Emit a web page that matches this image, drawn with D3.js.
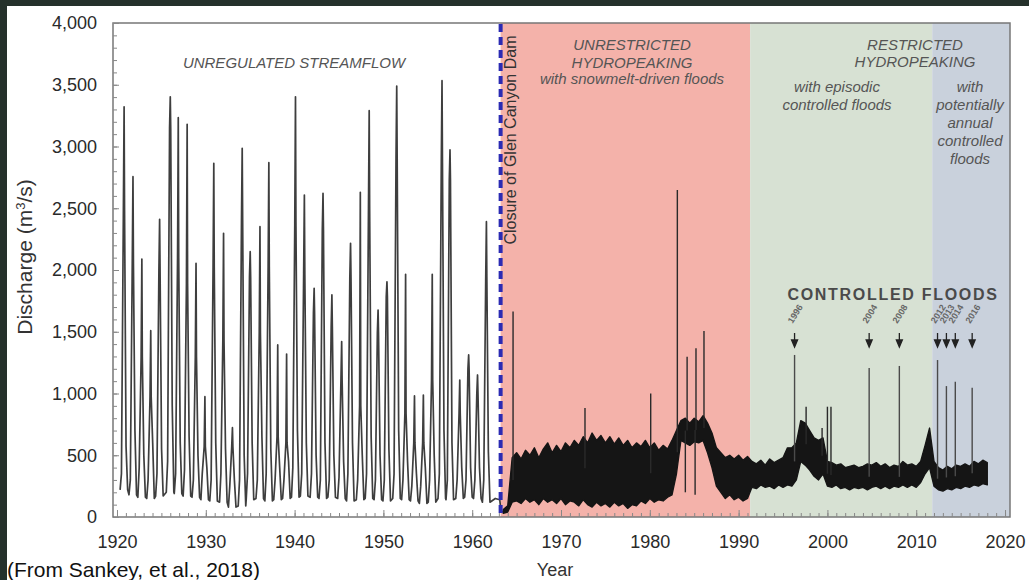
<!DOCTYPE html>
<html>
<head>
<meta charset="utf-8">
<title>Colorado River discharge</title>
<script src="https://cdn.jsdelivr.net/npm/d3@7"></script>
<style>
    body { margin: 0; background: #25312b; }
    svg { display: block; }
    text { font-family: Arial, "Liberation Sans", sans-serif; }
</style>
</head>
<body>
<svg id="svg" width="1029" height="580"></svg>
<script>
    // ---- data ----
    var yTicks = [0, 500, 1000, 1500, 2000, 2500, 3000, 3500, 4000];
    var xTicks = [1920, 1930, 1940, 1950, 1960, 1970, 1980, 1990, 2000, 2010, 2020];

    var damYear = 1963.2;
    var periodStart = [1963.2, 1991.3, 2011.8];
    var periodEnd = [1991.3, 2011.8, 2020.56];
    var periodFill = ["#f4b2aa", "#d7e1d3", "#c9d1dc"];

    // unregulated years: [time of peak, peak, inner (dark) level, summer, winter, low]
    var preDam = [
        [1920.8, 3322, 2486, 570, 350, 220], [1921.8, 2756, 2057, 700, 300, 180],
        [1922.8, 2089, 1298, 500, 400, 160], [1923.8, 1509, 974, 600, 300, 150],
        [1924.8, 2410, 2000, 550, 350, 170], [1926.0, 3403, 3147, 900, 450, 200],
        [1926.9, 3233, 2100, 600, 350, 190], [1927.9, 3180, 1892, 650, 380, 170],
        [1928.9, 2054, 1298, 500, 300, 160], [1929.9, 974, 570, 400, 350, 140],
        [1930.9, 2864, 2027, 600, 300, 130], [1932.0, 2297, 1433, 550, 350, 120],
        [1933.0, 723, 570, 300, 250, 80], [1934.1, 2985, 2405, 500, 300, 90],
        [1935.0, 2148, 1946, 600, 350, 140], [1936.1, 2351, 1490, 650, 300, 150],
        [1937.1, 2869, 2027, 550, 350, 130], [1938.1, 1393, 650, 400, 300, 140],
        [1939.1, 1320, 600, 450, 300, 150], [1940.1, 3403, 2380, 700, 400, 160],
        [1941.1, 2607, 1973, 600, 350, 170], [1942.2, 1852, 1650, 500, 350, 160],
        [1943.2, 2621, 2324, 600, 300, 150], [1944.2, 1798, 1541, 500, 300, 160],
        [1945.3, 1420, 1109, 450, 320, 150], [1946.3, 2216, 1946, 600, 350, 130],
        [1947.4, 2629, 900, 500, 300, 140], [1948.4, 3290, 2500, 650, 350, 150],
        [1949.4, 1676, 1490, 500, 300, 140], [1950.4, 1905, 1784, 550, 300, 130],
        [1951.5, 3490, 2900, 700, 350, 150], [1952.5, 1965, 840, 450, 300, 140],
        [1953.5, 980, 600, 350, 250, 130], [1954.5, 988, 600, 400, 250, 110],
        [1955.5, 1965, 1109, 500, 300, 120], [1956.6, 3533, 2866, 700, 350, 150],
        [1957.5, 2972, 2729, 600, 300, 140], [1958.6, 1109, 840, 400, 300, 150],
        [1959.6, 1312, 1200, 400, 300, 160], [1960.6, 1150, 1000, 400, 300, 150],
        [1961.6, 2391, 1919, 529, 300, 120]
    ];
    // flow at closure: [time, value]
    var closure = [[1962.6, 150], [1963.1, 140], [1963.25, 40], [1963.5, 45]];

    // hydropeaking band: [time, low, high]
    var band = [
        [1963.5, 30, 60], [1964.0, 40, 90], [1964.5, 120, 480], [1965.0, 130, 520], [1965.5, 110, 470],
        [1966.0, 150, 540], [1966.5, 120, 500], [1967.0, 140, 560], [1967.5, 100, 480], [1968.0, 150, 550],
        [1968.5, 120, 600], [1969.0, 140, 520], [1969.5, 110, 580], [1970.0, 150, 530], [1970.5, 100, 600],
        [1971.0, 130, 560], [1971.5, 120, 620], [1972.0, 90, 580], [1972.5, 140, 650], [1973.0, 100, 600],
        [1973.5, 80, 680], [1974.0, 120, 620], [1974.5, 90, 660], [1975.0, 110, 600], [1975.5, 80, 650],
        [1976.0, 120, 590], [1976.5, 90, 640], [1977.0, 110, 580], [1977.5, 70, 620], [1978.0, 100, 560],
        [1978.5, 90, 600], [1979.0, 130, 570], [1979.5, 110, 620], [1980.0, 150, 560], [1980.5, 120, 600],
        [1981.0, 140, 540], [1981.5, 130, 580], [1982.0, 160, 550], [1982.5, 180, 620], [1983.0, 350, 700],
        [1983.5, 620, 780], [1984.0, 600, 800], [1984.5, 580, 760], [1985.0, 610, 800], [1985.5, 600, 770],
        [1986.0, 620, 820], [1986.5, 520, 760], [1987.0, 400, 680], [1987.5, 250, 560], [1988.0, 200, 520],
        [1988.5, 150, 480], [1989.0, 180, 500], [1989.5, 140, 470], [1990.0, 160, 500], [1990.5, 130, 460],
        [1991.0, 150, 490], [1991.5, 240, 450], [1992.0, 230, 430], [1992.5, 260, 460], [1993.0, 240, 420],
        [1993.5, 250, 470], [1994.0, 230, 440], [1994.5, 260, 460], [1995.0, 240, 480], [1995.5, 260, 560],
        [1996.0, 250, 560], [1996.5, 300, 600], [1997.0, 450, 780], [1997.5, 420, 760], [1998.0, 380, 700],
        [1998.5, 330, 640], [1999.0, 300, 620], [1999.5, 350, 640], [2000.0, 250, 450], [2000.5, 240, 440],
        [2001.0, 260, 420], [2001.5, 230, 430], [2002.0, 240, 400], [2002.5, 220, 410], [2003.0, 240, 420],
        [2003.5, 230, 400], [2004.0, 240, 410], [2004.5, 220, 430], [2005.0, 240, 420], [2005.5, 250, 440],
        [2006.0, 230, 410], [2006.5, 250, 430], [2007.0, 230, 400], [2007.5, 250, 420], [2008.0, 240, 410],
        [2008.5, 260, 450], [2009.0, 240, 420], [2009.5, 260, 430], [2010.0, 240, 410], [2010.5, 280, 450],
        [2011.0, 350, 580], [2011.5, 400, 720], [2012.0, 250, 450], [2012.5, 220, 400], [2013.0, 210, 380],
        [2013.5, 230, 410], [2014.0, 220, 390], [2014.5, 240, 420], [2015.0, 230, 410], [2015.5, 250, 430],
        [2016.0, 240, 410], [2016.5, 260, 450], [2017.0, 250, 430], [2017.5, 270, 460], [2018.0, 260, 440]
    ];

    // short high-flow events after the dam: [time, peak]
    var spikes = [
        [1964.6, 1663], [1972.7, 883], [1980.1, 1001], [1983.1, 2648], [1984.2, 1298],
        [1985.2, 1366], [1986.1, 1506], [1984.0, 200], [1985.1, 180], [1997.6, 893],
        [1999.4, 720], [2000.0, 893], [2000.4, 893]
    ];
    var floodTime = [1996.3, 2004.7, 2008.1, 2012.4, 2013.4, 2014.4, 2016.3];
    var floodPeak = [1312, 1206, 1223, 1271, 1060, 1096, 1047];
    var floodLabel = ["1996", "2004", "2008", "2012", "2013", "2014", "2016"];

    // ---- drawing ----
    var svg = d3.select("#svg");
    svg.append("rect").attr("x", 7).attr("y", 6).attr("width", 1022).attr("height", 574).attr("fill", "#fff");

    var x = d3.scaleLinear().domain([1919.55, 2020.56]).range([113, 1010]);
    var y = d3.scaleLinear().domain([0, 4000]).range([517, 23]);

    var g = svg.append("g");

    g.selectAll(".period")
        .data(periodStart)
        .enter().append("rect")
        .attr("class", "period")
        .attr("x", function (d) { return x(d); })
        .attr("y", y(4000))
        .attr("width", function (d, i) { return x(periodEnd[i]) - x(d); })
        .attr("height", y(0) - y(4000))
        .attr("fill", function (d, i) { return periodFill[i]; });

    // unregulated hydrograph
    var prePts = [];
    preDam.forEach(function (r) {
        prePts.push([r[0] - 0.45, r[5]], [r[0] - 0.3, r[4]], [r[0] - 0.08, r[2]], [r[0], r[1]],
            [r[0] + 0.05, r[2]], [r[0] + 0.22, r[3]], [r[0] + 0.4, r[5]]);
    });
    prePts = prePts.concat(closure);
    prePts.sort(function (a, b) { return a[0] - b[0]; });

    var line = d3.line().x(function (d) { return x(d[0]); }).y(function (d) { return y(d[1]); });
    g.append("path").datum(prePts)
        .attr("d", line).attr("fill", "none")
        .attr("stroke", "#1c1c1c").attr("stroke-width", 1.7).attr("stroke-opacity", 0.85)
        .attr("stroke-linejoin", "round");

    // hydropeaking band
    var area = d3.area()
        .x(function (d) { return x(d[0]); })
        .y0(function (d) { return y(d[1]); })
        .y1(function (d) { return y(d[2]); });
    g.append("path").datum(band)
        .attr("d", area).attr("fill", "#151515")
        .attr("stroke", "#151515").attr("stroke-width", 1.4).attr("stroke-linejoin", "round");

    function bandMid(t) {
        var best = band[0];
        band.forEach(function (b) { if (Math.abs(b[0] - t) < Math.abs(best[0] - t)) best = b; });
        return (best[1] + best[2]) / 2;
    }
    g.selectAll(".spike")
        .data(spikes)
        .enter().append("line")
        .attr("class", "spike")
        .attr("x1", function (d) { return x(d[0]); })
        .attr("x2", function (d) { return x(d[0]); })
        .attr("y1", function (d) { return y(bandMid(d[0])); })
        .attr("y2", function (d) { return y(d[1]); })
        .attr("stroke", "#2a2a2a").attr("stroke-width", 1.4);

    g.selectAll(".flood")
        .data(floodTime)
        .enter().append("line")
        .attr("class", "flood")
        .attr("x1", function (d) { return x(d); })
        .attr("x2", function (d) { return x(d); })
        .attr("y1", function (d) { return y(bandMid(d)); })
        .attr("y2", function (d, i) { return y(floodPeak[i]); })
        .attr("stroke", "#4a4a4a").attr("stroke-width", 1.4);

    // plot frame
    g.append("rect").attr("x", 113).attr("y", 23).attr("width", 897).attr("height", 494)
        .attr("fill", "none").attr("stroke", "#777").attr("stroke-width", 1.5);

    // axes: minor ticks inside
    var minorY = d3.axisLeft(y).tickValues(d3.range(0, 4001, 100)).tickSize(-4).tickFormat("");
    var minorX = d3.axisBottom(x).tickValues(d3.range(1920, 2021, 1)).tickSize(-4).tickFormat("");
    g.append("g").attr("transform", "translate(113,0)").call(minorY);
    g.append("g").attr("transform", "translate(0,517)").call(minorX);

    var yAxis = d3.axisLeft(y).tickValues(yTicks).tickSize(-6).tickPadding(16).tickFormat(d3.format(","));
    var xAxis = d3.axisBottom(x).tickValues(xTicks).tickSize(-7).tickPadding(18).tickFormat(d3.format("d"));
    g.append("g").attr("class", "y axis").attr("transform", "translate(113,0)").call(yAxis);
    g.append("g").attr("class", "x axis").attr("transform", "translate(0,517)").call(xAxis);
    g.selectAll(".domain").remove();
    g.selectAll(".tick line").attr("stroke", "#888");
    g.selectAll(".axis text").attr("font-size", 18).attr("fill", "#2a2a2a");

    // dam closure
    g.append("line").attr("x1", x(damYear)).attr("x2", x(damYear)).attr("y1", 24).attr("y2", 517)
        .attr("stroke", "#2b2bb3").attr("stroke-width", 4).attr("stroke-dasharray", "8,5");
    g.append("text").attr("transform", "translate(516,140) rotate(-90)")
        .attr("text-anchor", "middle").attr("font-size", 16).attr("fill", "#333")
        .text("Closure of Glen Canyon Dam");

    // period labels
    function label(xp, yp, s) {
        g.append("text").attr("x", xp).attr("y", yp).attr("text-anchor", "middle")
            .attr("font-size", 15).attr("font-style", "italic").attr("fill", "#555").text(s);
    }
    label(294, 68, "UNREGULATED STREAMFLOW");
    label(632, 50, "UNRESTRICTED");
    label(632, 68, "HYDROPEAKING");
    label(632, 84, "with snowmelt-driven floods");
    label(915, 50, "RESTRICTED");
    label(915, 67, "HYDROPEAKING");
    label(837, 92, "with episodic");
    label(837, 110, "controlled floods");
    label(970, 92, "with");
    label(970, 110, "potentially");
    label(970, 128, "annual");
    label(970, 146, "controlled");
    label(970, 164, "floods");

    // controlled floods annotation
    g.append("text").attr("x", 893).attr("y", 300).attr("text-anchor", "middle")
        .attr("font-size", 16).attr("font-weight", "bold").attr("letter-spacing", 1.7)
        .attr("fill", "#4a4a4a").text("CONTROLLED FLOODS");
    g.selectAll(".flabel")
        .data(floodTime)
        .enter().append("text")
        .attr("class", "flabel")
        .attr("transform", function (d) { return "translate(" + (x(d) - 2) + ",324) rotate(-58)"; })
        .attr("font-size", 9).attr("font-weight", "bold").attr("fill", "#666")
        .text(function (d, i) { return floodLabel[i]; });
    g.selectAll(".arrow")
        .data(floodTime)
        .enter().append("path")
        .attr("class", "arrow")
        .attr("d", function (d) {
            var xp = x(d);
            return "M" + xp + ",333V341M" + (xp - 3) + ",340L" + (xp + 3) + ",340L" + xp + ",347Z";
        })
        .attr("stroke", "#222").attr("stroke-width", 1.3).attr("fill", "#222");

    // titles
    g.append("text").attr("transform", "translate(32,257) rotate(-90)")
        .attr("text-anchor", "middle").attr("font-size", 21).attr("fill", "#333")
        .html("Discharge (m<tspan font-size='13' dy='-7'>3</tspan><tspan dy='7'>/s)</tspan>");
    g.append("text").attr("x", 555).attr("y", 576).attr("text-anchor", "middle")
        .attr("font-size", 18).attr("fill", "#333").text("Year");
    g.append("text").attr("x", 7).attr("y", 577)
        .attr("font-size", 21).attr("fill", "#111").text("(From Sankey, et al., 2018)");
</script>
</body>
</html>
